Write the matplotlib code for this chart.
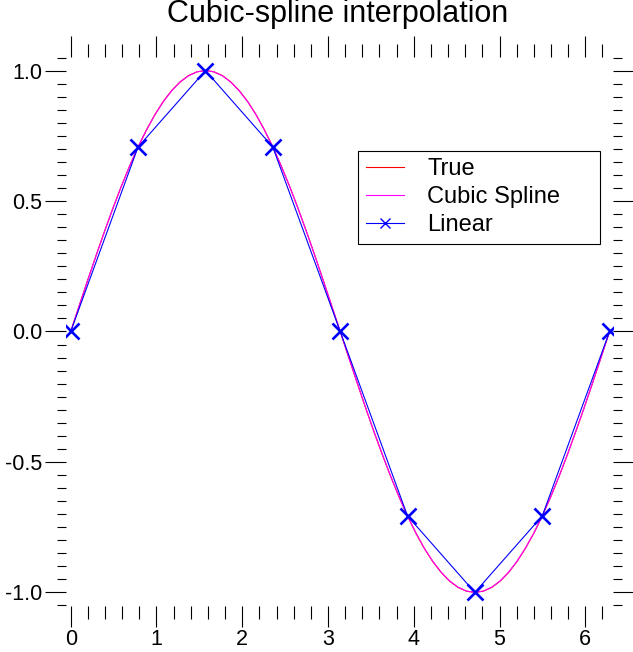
import matplotlib
matplotlib.use("Agg")
import matplotlib.pyplot as plt
from matplotlib.ticker import MultipleLocator

plt.rcParams["font.family"] = ["Liberation Sans", "DejaVu Sans"]
plt.rcParams["axes.unicode_minus"] = False

# sample points used for the interpolation
sample_x = [0.0, 0.785, 1.571, 2.356, 3.142, 3.927, 4.712, 5.498, 6.283]
sample_y = [0.0, 0.707, 1.0, 0.707, 0.0, -0.707, -1.0, -0.707, 0.0]

curve_x = [0.0, 0.098, 0.196, 0.295, 0.393, 0.491, 0.589, 0.687,
           0.785, 0.884, 0.982, 1.080, 1.178, 1.276, 1.374, 1.473,
           1.571, 1.669, 1.767, 1.865, 1.963, 2.062, 2.160, 2.258,
           2.356, 2.454, 2.553, 2.651, 2.749, 2.847, 2.945, 3.043,
           3.142, 3.240, 3.338, 3.436, 3.534, 3.633, 3.731, 3.829,
           3.927, 4.025, 4.123, 4.222, 4.320, 4.418, 4.516, 4.614,
           4.712, 4.811, 4.909, 5.007, 5.105, 5.203, 5.301, 5.400,
           5.498, 5.596, 5.694, 5.792, 5.890, 5.989, 6.087, 6.185, 6.283]
true_y = [0.0, 0.0980, 0.1951, 0.2903, 0.3827, 0.4714, 0.5556, 0.6344,
          0.7071, 0.7730, 0.8315, 0.8819, 0.9239, 0.9569, 0.9808, 0.9952,
          1.0, 0.9952, 0.9808, 0.9569, 0.9239, 0.8819, 0.8315, 0.7730,
          0.7071, 0.6344, 0.5556, 0.4714, 0.3827, 0.2903, 0.1951, 0.0980,
          0.0, -0.0980, -0.1951, -0.2903, -0.3827, -0.4714, -0.5556, -0.6344,
          -0.7071, -0.7730, -0.8315, -0.8819, -0.9239, -0.9569, -0.9808, -0.9952,
          -1.0, -0.9952, -0.9808, -0.9569, -0.9239, -0.8819, -0.8315, -0.7730,
          -0.7071, -0.6344, -0.5556, -0.4714, -0.3827, -0.2903, -0.1951, -0.0980, 0.0]
spline_y = [0.0, 0.0978, 0.1947, 0.2898, 0.3822, 0.4711, 0.5554, 0.6344,
            0.7071, 0.7727, 0.8308, 0.8810, 0.9228, 0.9560, 0.9802, 0.9950,
            1.0, 0.9950, 0.9802, 0.9560, 0.9228, 0.8810, 0.8308, 0.7727,
            0.7071, 0.6344, 0.5554, 0.4711, 0.3822, 0.2898, 0.1947, 0.0978,
            0.0, -0.0978, -0.1947, -0.2898, -0.3822, -0.4711, -0.5554, -0.6344,
            -0.7071, -0.7727, -0.8308, -0.8810, -0.9228, -0.9560, -0.9802, -0.9950,
            -1.0, -0.9950, -0.9802, -0.9560, -0.9228, -0.8810, -0.8308, -0.7727,
            -0.7071, -0.6344, -0.5554, -0.4711, -0.3822, -0.2898, -0.1947, -0.0978, 0.0]

xticks = [0, 1, 2, 3, 4, 5, 6]
xtick_labels = ["0", "1", "2", "3", "4", "5", "6"]
yticks = [-1.0, -0.5, 0.0, 0.5, 1.0]
ytick_labels = ["-1.0", "-0.5", "0.0", "0.5", "1.0"]

fig = plt.figure(figsize=(6.33, 6.52), dpi=100)
ax = fig.add_axes([0.1043, 0.0706, 0.8641, 0.8420])

ax.plot(curve_x, true_y, color="#ff0000", lw=0.8, label="True")
ax.plot(curve_x, spline_y, color="#ff00ff", lw=0.8, label="Cubic Spline")
ax.plot(sample_x, sample_y, color="#0000ff", lw=0.8, marker="x",
        ms=12, mew=1.9, label="Linear")

ax.set_xlim(-0.055, 6.323)
ax.set_ylim(-1.052, 1.052)

for s in ax.spines.values():
    s.set_visible(False)

ax.set_xticks(xticks, xtick_labels)
ax.set_yticks(yticks, ytick_labels)
ax.xaxis.set_minor_locator(MultipleLocator(0.2))
ax.yaxis.set_minor_locator(MultipleLocator(0.05))
ax.tick_params(axis="both", which="both", direction="out", top=True, right=True,
               width=0.8, color="black", labelsize=15.5)
ax.tick_params(axis="x", which="major", length=15, pad=1.5)
ax.tick_params(axis="x", which="minor", length=9.5)
ax.tick_params(axis="y", which="major", length=15, pad=2)
ax.tick_params(axis="y", which="minor", length=6.5)

fig.text(0.5332, 0.9667, "Cubic-spline interpolation", fontsize=22,
         ha="center", va="baseline")

leg = ax.legend(loc="upper left", bbox_to_anchor=(0.5656, 0.6273, 0.3823, 0.1416),
                bbox_transform=fig.transFigure, mode="expand", borderaxespad=0,
                fontsize=17, fancybox=False, framealpha=1, edgecolor="black",
                borderpad=0.32, labelspacing=0.25, handlelength=1.61,
                handletextpad=1.0)
leg.get_frame().set_linewidth(0.8)
leg.legend_handles[2].set_markersize(7)
leg.legend_handles[2].set_markeredgewidth(1.0)

fig.savefig("out.png", dpi=100)
